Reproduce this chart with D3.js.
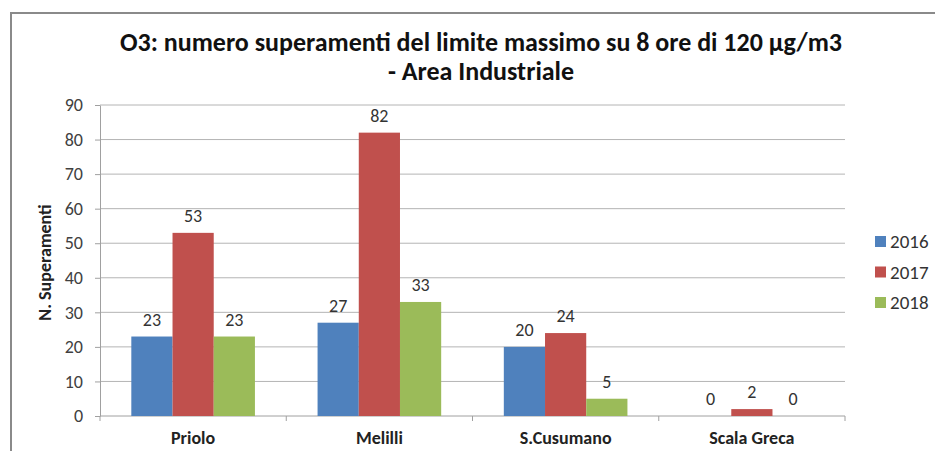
<!DOCTYPE html>
<html>
<head>
<meta charset="utf-8">
<script src="https://cdn.jsdelivr.net/npm/d3@7"></script>
<style>
  html, body { margin: 0; padding: 0; background: #fff; }
  svg { display: block; }
</style>
</head>
<body>
<svg id="chart" width="935" height="451"></svg>
<script>
// Exceedances of the 8-hour O3 limit, by station and year
const categories = ["Priolo", "Melilli", "S.Cusumano", "Scala Greca"];
const years = ["2016", "2017", "2018"];
const values2016 = [23, 27, 20, 0];
const values2017 = [53, 82, 24, 2];
const values2018 = [23, 33, 5, 0];
const yTicks = [0, 10, 20, 30, 40, 50, 60, 70, 80, 90];
const colors = ["#4F81BD", "#C0504D", "#9BBB59"];
const titleLines = ["O3: numero superamenti del limite massimo su 8 ore di 120 µg/m3", "- Area Industriale"];

const seriesValues = [values2016, values2017, values2018];
const font = "Carlito, 'Liberation Sans Narrow', 'Open Sans', sans-serif";

const svg = d3.select("#chart");
const W = 935, H = 451;
const plot = { left: 100, right: 845, top: 105, bottom: 416 };

// outer frame (left and top edges visible)
svg.append("path")
  .attr("d", `M11,${H} V13 H${W}`)
  .attr("fill", "none")
  .attr("stroke", "#8a8a8a")
  .attr("stroke-width", 2);

const x = d3.scaleBand().domain(categories).range([plot.left, plot.right]);
const bandW = x.bandwidth();
const x1 = d3.scaleBand().domain(years).range([0, bandW]).paddingOuter(0.76).paddingInner(0);
const y = d3.scaleLinear().domain([0, 90]).range([plot.bottom, plot.top]);

// gridlines
svg.append("g")
  .selectAll("line")
  .data(yTicks.filter(d => d > 0))
  .join("line")
  .attr("x1", plot.left).attr("x2", plot.right)
  .attr("y1", d => y(d)).attr("y2", d => y(d))
  .attr("stroke", "#b4b4b4").attr("stroke-width", 1);

// y axis
const yAxis = svg.append("g")
  .attr("transform", `translate(${plot.left},0)`)
  .call(d3.axisLeft(y).tickValues(yTicks).tickSize(5).tickPadding(12).tickSizeOuter(0));
yAxis.select(".domain").attr("stroke", "#a0a0a0");
yAxis.selectAll(".tick line").attr("stroke", "#a0a0a0");
yAxis.selectAll(".tick text")
  .attr("font-family", font).attr("font-size", 18).attr("fill", "#404040");

// x axis with ticks at category boundaries
svg.append("line")
  .attr("x1", plot.left).attr("x2", plot.right)
  .attr("y1", plot.bottom).attr("y2", plot.bottom)
  .attr("stroke", "#a0a0a0");
svg.append("g")
  .selectAll("line")
  .data(d3.range(categories.length + 1))
  .join("line")
  .attr("x1", i => plot.left + i * bandW).attr("x2", i => plot.left + i * bandW)
  .attr("y1", plot.bottom).attr("y2", plot.bottom + 5)
  .attr("stroke", "#a0a0a0");
svg.append("g")
  .selectAll("text")
  .data(categories)
  .join("text")
  .attr("x", d => x(d) + bandW / 2)
  .attr("y", 444)
  .attr("text-anchor", "middle")
  .attr("font-family", font).attr("font-size", 18).attr("font-weight", "bold")
  .attr("fill", "#222")
  .text(d => d);

// bars and value labels
const groups = svg.append("g")
  .selectAll("g")
  .data(categories)
  .join("g")
  .attr("transform", d => `translate(${x(d)},0)`);

groups.each(function(cat, ci) {
  const g = d3.select(this);
  years.forEach((yr, si) => {
    const v = seriesValues[si][ci];
    g.append("rect")
      .attr("x", x1(yr))
      .attr("width", x1.bandwidth())
      .attr("y", y(v))
      .attr("height", y(0) - y(v))
      .attr("fill", colors[si]);
    g.append("text")
      .attr("x", x1(yr) + x1.bandwidth() / 2)
      .attr("y", y(v) - 11)
      .attr("text-anchor", "middle")
      .attr("font-family", font).attr("font-size", 18)
      .attr("fill", "#333")
      .text(v);
  });
});

// y-axis title
svg.append("text")
  .attr("transform", `translate(51,${(plot.top + plot.bottom) / 2 + 2}) rotate(-90)`)
  .attr("text-anchor", "middle")
  .attr("font-family", font).attr("font-size", 18).attr("font-weight", "bold")
  .attr("fill", "#222")
  .text("N. Superamenti");

// chart title
svg.append("g")
  .selectAll("text")
  .data(titleLines)
  .join("text")
  .attr("x", 481)
  .attr("y", (d, i) => 51 + i * 29)
  .attr("text-anchor", "middle")
  .attr("font-family", font).attr("font-size", 26).attr("font-weight", "bold")
  .attr("fill", "#111")
  .text(d => d);

// legend
const legend = svg.append("g")
  .selectAll("g")
  .data(years)
  .join("g")
  .attr("transform", (d, i) => `translate(875,${241 + i * 30.5})`);
legend.append("rect")
  .attr("x", 0).attr("y", -5).attr("width", 11).attr("height", 11)
  .attr("fill", (d, i) => colors[i]);
legend.append("text")
  .attr("x", 15).attr("y", 7)
  .attr("font-family", font).attr("font-size", 19)
  .attr("fill", "#333")
  .text(d => d);
</script>
</body>
</html>
